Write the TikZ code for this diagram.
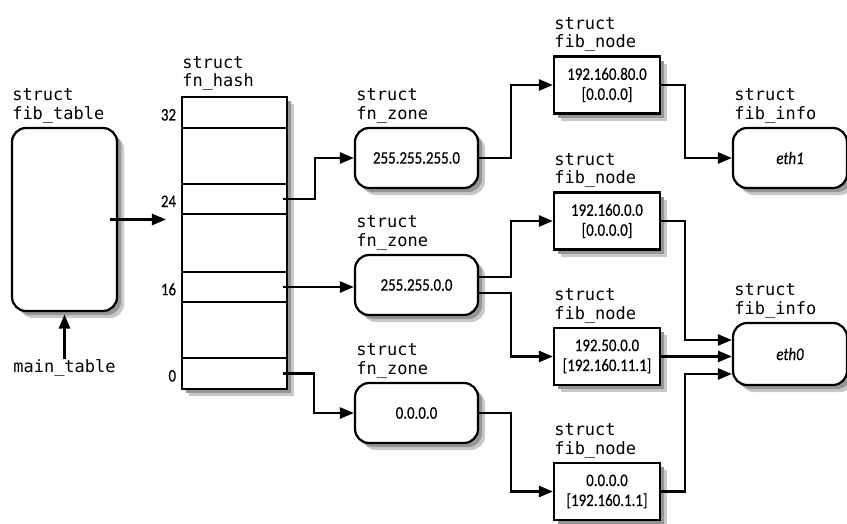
\documentclass[tikz,border=0pt]{standalone}
\usepackage{fontspec}
\setmainfont{Carlito}[FakeStretch=0.85, FakeBold=0.4]
\newfontfamily\structfont{DejaVu Sans Mono}
\usepackage{tikz}
\usetikzlibrary{arrows.meta, positioning, calc}
\definecolor{shadowlight}{RGB}{200,200,200}
\definecolor{shadowdark}{RGB}{150,150,150}

\begin{document}
\begin{tikzpicture}[
    x=0.03cm, y=0.03cm,
    every node/.style={font=\fontsize{15}{17}\selectfont, align=center, inner sep=1pt},
    lbl/.style={font=\structfont\fontsize{14.5}{15.5}\selectfont, align=left, inner sep=0pt},
    roundbox/.style={draw, line width=1.9pt, rounded corners=12pt, fill=white},
    fibbox/.style={draw, line width=1.9pt, fill=white, minimum width=3.18cm, minimum height=1.71cm},
    zonebox/.style={roundbox, minimum width=3.69cm, minimum height=1.8cm},
    infobox/.style={roundbox, minimum width=3.42cm, minimum height=1.8cm, font=\fontsize{15}{17}\selectfont\itshape},
    rowbox/.style={draw, line width=1.7pt, minimum width=3.15cm},
    link/.style={-{Triangle[length=12pt,width=9.5pt]}, line width=1.9pt},
    shadowlayer/.style={preaction={fill=shadowlight, transform canvas={shift={(6pt,-6pt)}}},
                        preaction={fill=shadowdark, transform canvas={shift={(3.5pt,-3.5pt)}}}}
]
\useasboundingbox (0,0) rectangle (847,523);

% fib_table and main_table
\node[roundbox, shadowlayer, minimum width=3.15cm, minimum height=5.49cm] (ft) at (64.5,303.5) {};
\node[lbl, above right=3pt and 1pt of ft.north west] (ft-l) {struct\\fib\_table};
\node[lbl] (mt) at (64.5,155) {main\_table};
\coordinate (ptr) at (166,303.5);

% fn_hash with its slots
\node[draw, line width=1.9pt, fill=white, shadowlayer, minimum width=3.15cm, minimum height=8.76cm] (hash) at (234.5,280) {};
\node[lbl, above right=4pt and 1pt of hash.north west] (hash-l) {struct\\fn\_hash};
\node[rowbox, minimum height=0.93cm] (row32) at (234.5,410.5) {};
\node[rowbox, minimum height=0.9cm] (row24) at (234.5,324) {};
\node[rowbox, minimum height=0.9cm] (row16) at (234.5,236) {};
\node[rowbox, minimum height=0.93cm] (row0) at (234.5,149.5) {};
\node[left=3pt of row32, yshift=-2pt] (n32) {32};
\node[left=3pt of row24, yshift=-2pt] (n24) {24};
\node[left=3pt of row16, yshift=-2pt] (n16) {16};
\node[left=3pt of row0, yshift=-2pt] (n0) {0};

% fn_zone
\node[zonebox, shadowlayer] (z1) at (416.5,365) {255.255.255.0};
\node[zonebox, shadowlayer] (z2) at (416.5,238) {255.255.0.0};
\node[zonebox, shadowlayer] (z3) at (416.5,110) {0.0.0.0};
\node[lbl, above right=3pt and 2pt of z1.north west] (z1-l) {struct\\fn\_zone};
\node[lbl, above right=3pt and 2pt of z2.north west] (z2-l) {struct\\fn\_zone};
\node[lbl, above right=3pt and 2pt of z3.north west] (z3-l) {struct\\fn\_zone};

% fib_node
\node[fibbox, shadowlayer] (f1) at (607,438) {192.160.80.0\\{[0.0.0.0]}};
\node[fibbox, shadowlayer] (f2) at (607,302) {192.160.0.0\\{[0.0.0.0]}};
\node[fibbox, shadowlayer] (f3) at (607,166.5) {192.50.0.0\\{[192.160.11.1]}};
\node[fibbox, shadowlayer] (f4) at (607,31.5) {0.0.0.0\\{[192.160.1.1]}};
\node[lbl, above right=3pt and 1pt of f1.north west] (f1-l) {struct\\fib\_node};
\node[lbl, above right=3pt and 1pt of f2.north west] (f2-l) {struct\\fib\_node};
\node[lbl, above right=3pt and 1pt of f3.north west] (f3-l) {struct\\fib\_node};
\node[lbl, above right=3pt and 1pt of f4.north west] (f4-l) {struct\\fib\_node};

% fib_info
\node[infobox, shadowlayer] (i1) at (790,365) {eth1};
\node[infobox, shadowlayer, minimum height=1.86cm] (i2) at (790,169) {eth0};
\node[lbl, above right=3pt and 2pt of i1.north west] (i1-l) {struct\\fib\_info};
\node[lbl, above right=3pt and 2pt of i2.north west] (i2-l) {struct\\fib\_info};

% pointers
\draw[link] (mt.north) -- ([yshift=-2pt]ft.south);
\draw[link] ([xshift=-7pt]ft.east) -- (ptr);
\draw[link] ([xshift=-4pt]row24.east) -- ++(32,0) |- (z1.west);
\draw[link] ([xshift=-4pt]row16.east) -- (row16.east -| z1.west);
\draw[link] ([xshift=-4pt]row0.east) -- ++(31,0) |- (z3.west);
\draw[link] (z1.east) -- ++(32,0) |- (f1.west);
\draw[link] ($(z2.east)+(0,8)$) -- ++(32,0) |- (f2.west);
\draw[link] ($(z2.east)+(0,-8)$) -- ++(32,0) |- (f3.west);
\draw[link] (z3.east) -- ++(32,0) |- (f4.west);
\draw[link] (f1.east) -- ++(24,0) |- (i1.west);
\draw[link] (f2.east) -- ++(24,0) |- ($(i2.west)+(0,14)$);
\draw[link] (f3.east) -- (f3.east -| i2.west);
\draw[link] (f4.east) -- ++(24,0) |- ($(i2.west)+(0,-20)$);
\end{tikzpicture}
\end{document}
